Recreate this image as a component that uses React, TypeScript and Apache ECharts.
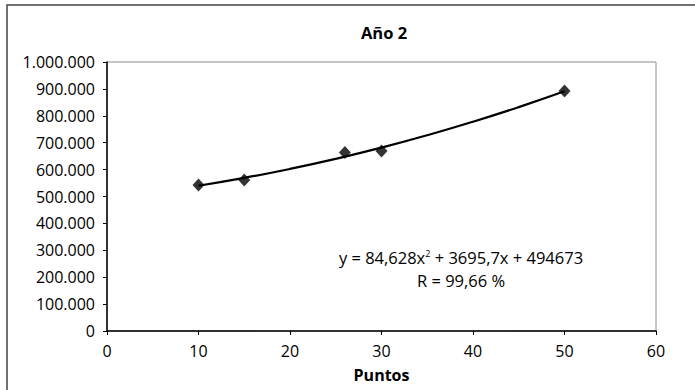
import React, { useEffect, useRef } from "react";
import * as echarts from "echarts";

const pointX = [10, 15, 26, 30, 50];
const pointY = [543000, 561000, 664000, 669000, 892000];
const trendX = [10, 15, 20, 25, 30, 35, 40, 45, 50];
const trendY = [540093, 569150, 602438, 639959, 681709, 727692, 777906, 832352, 891028];
const titleText = "Año 2";
const xAxisName = "Puntos";
const yTickLabels = ["0", "100.000", "200.000", "300.000", "400.000", "500.000", "600.000", "700.000", "800.000", "900.000", "1.000.000"];

const FONT = "Open Sans";

export default function App() {
  const ref = useRef<HTMLDivElement>(null);
  useEffect(() => {
    if (!ref.current) return;
    const chart = echarts.init(ref.current, null, { renderer: "svg" });
    chart.setOption({
      animation: false,
      backgroundColor: "#ffffff",
      title: {
        text: titleText,
        left: 379,
        top: 19,
        textAlign: "center",
        textStyle: { fontFamily: FONT, fontSize: 16.5, fontWeight: "bold", color: "#000" },
      },
      grid: { left: 107, top: 62, right: 39, bottom: 59, show: true, borderColor: "#8c8c8c", borderWidth: 1, backgroundColor: "transparent" },
      xAxis: {
        type: "value",
        min: 0,
        max: 60,
        interval: 10,
        name: xAxisName,
        nameLocation: "middle",
        nameGap: 36,
        nameTextStyle: { fontFamily: FONT, fontSize: 16, fontWeight: "bold", color: "#000" },
        axisLine: { show: true, lineStyle: { color: "#000", width: 1.5 } },
        axisTick: { show: true, inside: false, length: 4, lineStyle: { color: "#000" } },
        axisLabel: { fontFamily: FONT, fontSize: 16, color: "#000", margin: 12 },
        splitLine: { show: false },
      },
      yAxis: {
        type: "value",
        min: 0,
        max: 1000000,
        interval: 100000,
        axisLine: { show: true, lineStyle: { color: "#000", width: 1.5 } },
        axisTick: { show: true, inside: false, length: 4, lineStyle: { color: "#000" } },
        axisLabel: {
          fontFamily: FONT,
          fontSize: 16,
          color: "#000",
          margin: 12,
          formatter: (v: number) => yTickLabels[Math.round(v / 100000)] ?? "",
        },
        splitLine: { show: false },
      },
      series: [
        {
          type: "line",
          data: trendX.map((x, i) => [x, trendY[i]]),
          smooth: true,
          showSymbol: false,
          lineStyle: { color: "#000", width: 2.2 },
          z: 2,
        },
        {
          type: "scatter",
          data: pointX.map((x, i) => [x, pointY[i]]),
          symbol: "diamond",
          symbolSize: [12, 13],
          itemStyle: { color: "#000" },
          z: 3,
        },
      ],
      graphic: [
        {
          type: "rect",
          shape: { x: 7, y: 5, width: 700, height: 400 },
          style: { fill: "none", stroke: "#444", lineWidth: 1.5 },
          z: 100,
          silent: true,
        },
        {
          type: "text",
          x: 461,
          y: 257,
          style: {
            text: "y = 84,628x{sup|2} + 3695,7x + 494673",
            rich: { sup: { fontFamily: FONT, fontSize: 9, verticalAlign: "top", padding: [0, 0, 8, 0], fill: "#000" } },
            fontFamily: FONT,
            fontSize: 16.5,
            fill: "#000",
            align: "center",
            verticalAlign: "middle",
          },
        },
        {
          type: "text",
          x: 461,
          y: 280,
          style: {
            text: "R = 99,66 %",
            fontFamily: FONT,
            fontSize: 16.5,
            fill: "#000",
            align: "center",
            verticalAlign: "middle",
          },
        },
      ],
    });
    return () => chart.dispose();
  }, []);
  return <div ref={ref} style={{ width: 695, height: 390, position: "fixed", left: 0, top: 0 }} />;
}
